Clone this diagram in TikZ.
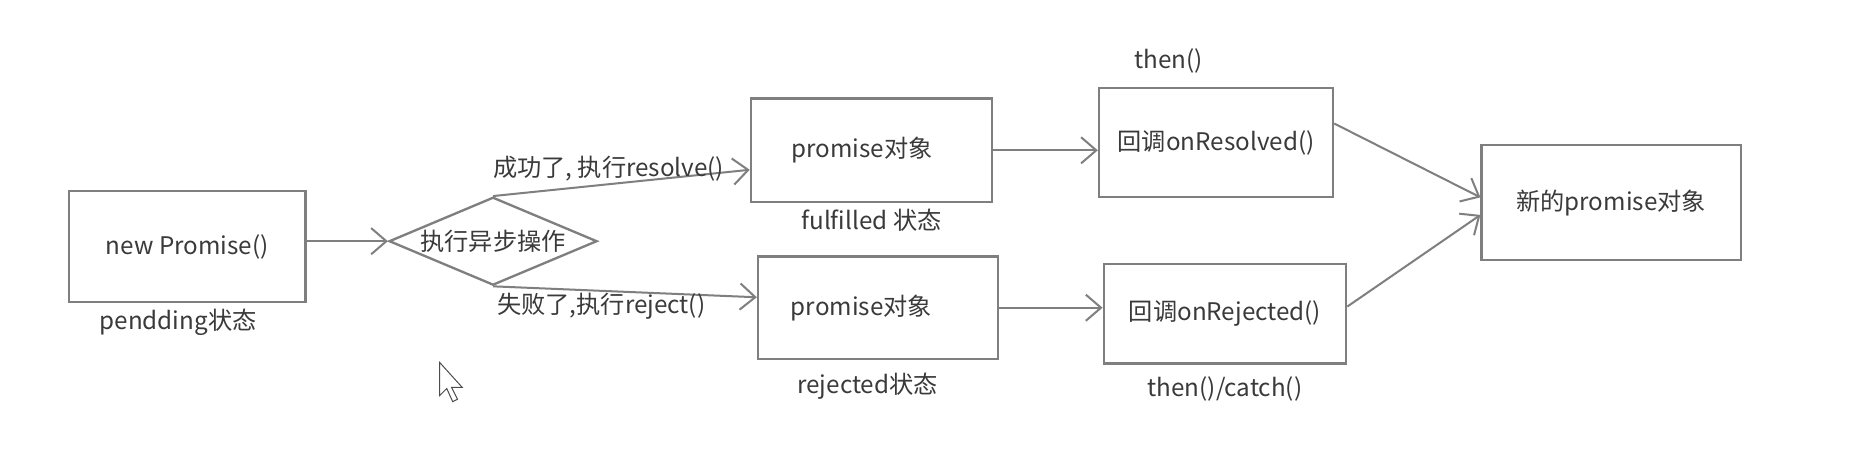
\documentclass[tikz,border=0pt]{standalone}
\usepackage{fontspec}
\newfontfamily\cjk{Noto Sans CJK SC}
\usetikzlibrary{arrows.meta}
\usetikzlibrary{shapes.geometric}
\usetikzlibrary{positioning}
\definecolor{linegray}{HTML}{7F7F7F}
\definecolor{textgray}{HTML}{3A3A3A}
\tikzset{
  box/.style={draw=linegray,line width=1.4pt,text=textgray,font=\cjk\fontsize{14.5}{17}\selectfont},
  lbl/.style={text=textgray,font=\cjk\fontsize{14.5}{17}\selectfont},
  flow/.style={draw=linegray,line width=1.2pt,-{Straight Barb[length=0.32cm,width=0.55cm]}},
}

\begin{document}
\begin{tikzpicture}[x=0.025cm,y=-0.025cm]
    \fill[white] (0,0) rectangle (1568,383);
    \useasboundingbox (0,0) rectangle (1568,383);
    \node[box,minimum width=4.975cm,minimum height=2.325cm,label={[lbl,name=pend,xshift=-0.19cm]below:pendding状态}] (np) at (157.5,207.5) {new Promise()};
    \node[box,diamond,aspect=2.36,inner sep=0pt,minimum width=4.375cm,minimum height=1.85cm] (dia) at (415,203) {执行异步操作};
    \node[box,minimum width=5.075cm,minimum height=2.175cm,label={[lbl,name=fulst]below:fulfilled 状态}] (ful) at (733.5,126.5) {promise对象\hspace*{0.4cm}};
    \node[box,minimum width=5.05cm,minimum height=2.15cm,label={[lbl,name=rejst,label distance=0.15cm,xshift=-0.22cm]below:rejected状态}] (rej) at (739,259) {promise对象\hspace*{0.7cm}};
    \node[box,minimum width=4.925cm,minimum height=2.3cm,label={[lbl,name=thn,label distance=0.15cm,xshift=-1cm]above:then()}] (res) at (1023.5,120) {回调onResolved()};
    \node[box,minimum width=5.1cm,minimum height=2.1cm,label={[lbl,name=thc,label distance=0.12cm]below:then()/catch()}] (rjt) at (1031,264) {回调onRejected()};
    \node[box,minimum width=5.45cm,minimum height=2.425cm] (newp) at (1356,170.5) {新的promise对象};
    \draw[flow] (np.east |- dia.west) -- (dia.west);
    \draw[flow] (dia.north) -- ([yshift=-0.41cm]ful.west) node[lbl,pos=0.45,above,inner sep=1pt] (ok) {成功了, 执行resolve()};
    \draw[flow] (dia.south) -- ([yshift=0.22cm]rej.west) node[lbl,pos=0.41,below,inner sep=1pt] (fail) {失败了,执行reject()};
    \draw[flow] (ful.east) -- (res.west |- ful.east);
    \draw[flow] (rej.east) -- (rjt.west |- rej.east);
    \draw[flow] ([yshift=0.4cm]res.east) -- ([yshift=0.11cm]newp.west);
    \draw[flow] ([yshift=0.15cm]rjt.east) -- ([yshift=-0.26cm]newp.west);
    % mouse pointer
    \draw[black!70,line width=0.6pt,fill=white] (370,305) -- (370,333) -- (376,327) -- (381,338) -- (385,336) -- (380,326) -- (389,326) -- cycle;
\end{tikzpicture}
\end{document}
